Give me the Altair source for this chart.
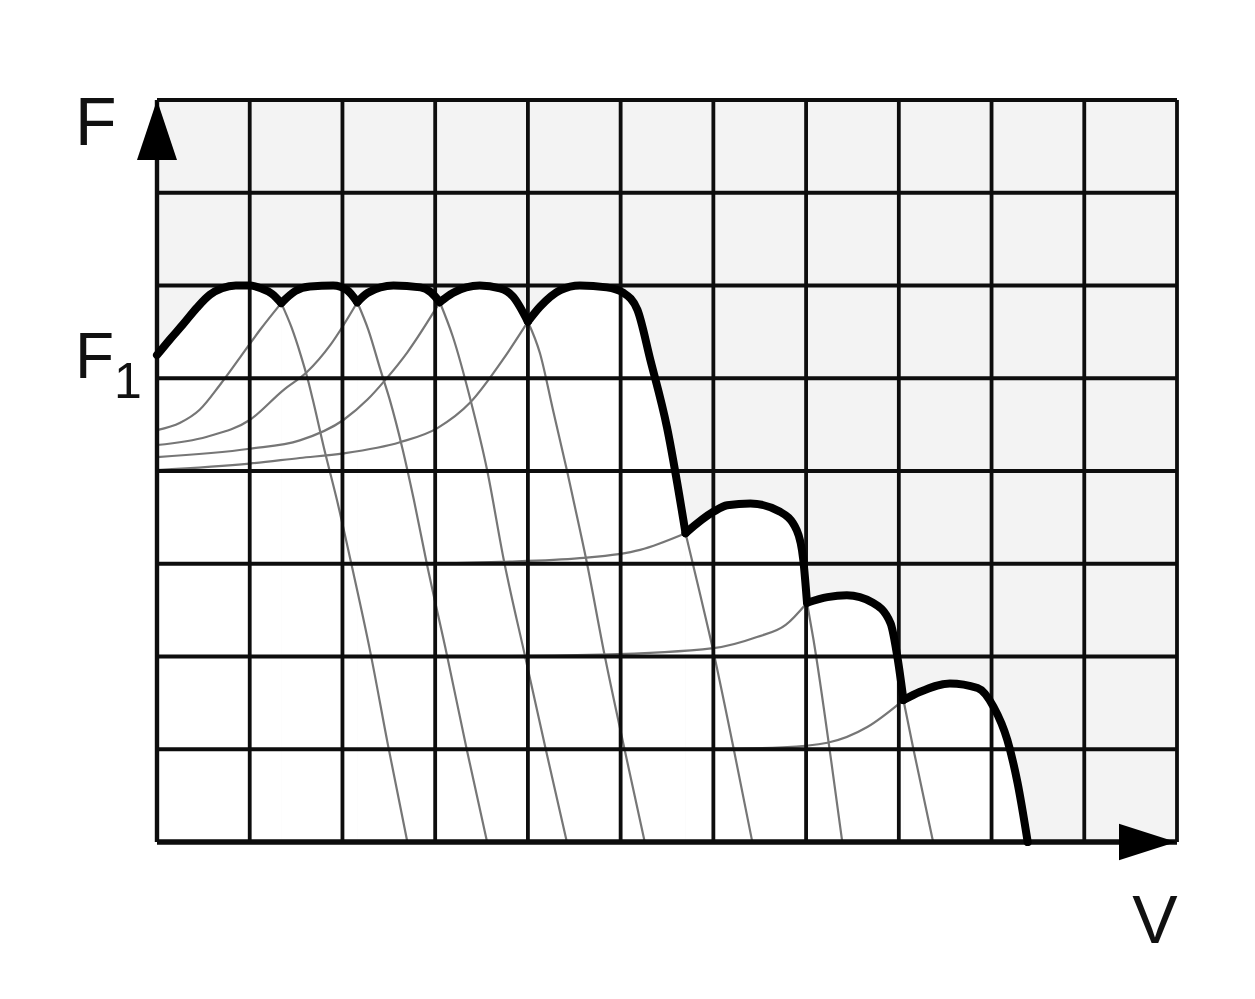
import altair as alt
import pandas as pd

# ---------------- data (grid units: x = speed V, y = tractive force F) ----------------
GRID_X = list(range(0, 12))
GRID_Y = list(range(0, 9))
AXIS_X = [0]
AXIS_Y = [0]

# thick envelope, one piece per gear
ENV1_X = [0.00, 0.14, 0.28, 0.43, 0.57, 0.70, 0.85, 1.00, 1.12, 1.24, 1.34]
ENV1_Y = [5.25, 5.42, 5.58, 5.76, 5.90, 5.97, 6.00, 6.00, 5.97, 5.91, 5.81]
ENV2_X = [1.34, 1.49, 1.65, 1.90, 2.05, 2.16]
ENV2_Y = [5.81, 5.94, 5.99, 6.00, 5.95, 5.82]
ENV3_X = [2.16, 2.27, 2.55, 2.84, 2.95, 3.05]
ENV3_Y = [5.82, 5.92, 6.00, 5.98, 5.93, 5.82]
ENV4_X = [3.05, 3.19, 3.48, 3.70, 3.84, 4.00]
ENV4_Y = [5.82, 5.92, 6.00, 5.97, 5.88, 5.61]
ENV5_X = [4.00, 4.13, 4.35, 4.56, 4.85, 5.03, 5.18, 5.32, 5.50, 5.70]
ENV5_Y = [5.61, 5.77, 5.95, 6.00, 5.98, 5.92, 5.74, 5.20, 4.47, 3.33]
ENV6_X = [5.70, 6.00, 6.15, 6.40, 6.72, 6.90, 6.97, 7.01]
ENV6_Y = [3.33, 3.56, 3.63, 3.65, 3.56, 3.36, 3.04, 2.58]
ENV7_X = [7.01, 7.23, 7.44, 7.72, 7.91, 7.99, 8.05]
ENV7_Y = [2.58, 2.64, 2.66, 2.58, 2.36, 1.96, 1.53]
ENV8_X = [8.05, 8.23, 8.55, 8.85, 9.02, 9.17, 9.28, 9.39]
ENV8_Y = [1.53, 1.62, 1.71, 1.66, 1.46, 1.10, 0.64, 0.00]

# thin gear curves: rising branches
G2_RISE_X = [0.00, 0.25, 0.46, 0.68, 0.90, 1.11, 1.34]
G2_RISE_Y = [4.44, 4.52, 4.66, 4.93, 5.23, 5.52, 5.81]
G3_RISE_X = [0.00, 0.54, 1.00, 1.36, 1.62, 1.87, 2.16]
G3_RISE_Y = [4.28, 4.37, 4.55, 4.87, 5.07, 5.36, 5.82]
G4_RISE_X = [0.00, 1.00, 1.54, 2.01, 2.27, 2.46, 2.70, 3.05]
G4_RISE_Y = [4.15, 4.24, 4.33, 4.55, 4.77, 4.98, 5.28, 5.82]
G5_RISE_X = [0.00, 1.00, 1.54, 2.01, 2.62, 3.02, 3.38, 3.73, 4.00]
G5_RISE_Y = [4.01, 4.08, 4.14, 4.19, 4.31, 4.46, 4.74, 5.20, 5.61]
G6_RISE_X = [0.00, 2.62, 3.70, 4.56, 5.21, 5.70]
G6_RISE_Y = [3.00, 3.00, 3.02, 3.06, 3.15, 3.33]
G7_RISE_X = [0.00, 3.16, 4.78, 6.00, 6.47, 6.78, 7.01]
G7_RISE_Y = [2.00, 2.00, 2.02, 2.09, 2.21, 2.34, 2.58]
G8_RISE_X = [0.00, 5.86, 6.75, 7.23, 7.66, 8.05]
G8_RISE_Y = [1.00, 1.00, 1.02, 1.07, 1.24, 1.53]

# thin gear curves: falling branches
G1_FALL_X = [1.34, 1.45, 1.55, 1.62, 1.68, 1.80, 1.94, 2.10, 2.30, 2.49, 2.70]
G1_FALL_Y = [5.81, 5.55, 5.25, 5.01, 4.77, 4.25, 3.69, 2.98, 2.05, 1.05, 0.00]
G2_FALL_X = [2.16, 2.28, 2.41, 2.51, 2.65, 2.77, 2.91, 3.13, 3.34, 3.56]
G2_FALL_Y = [5.82, 5.52, 5.09, 4.77, 4.23, 3.69, 3.00, 2.00, 1.00, 0.00]
G3_FALL_X = [3.05, 3.19, 3.38, 3.56, 3.74, 3.97, 4.19, 4.42]
G3_FALL_Y = [5.82, 5.45, 4.77, 4.01, 3.04, 2.00, 1.01, 0.00]
G4_FALL_X = [4.00, 4.13, 4.27, 4.42, 4.49, 4.63, 4.83, 5.04, 5.26]
G4_FALL_Y = [5.61, 5.27, 4.66, 4.01, 3.69, 3.04, 2.00, 1.01, 0.00]
G5_FALL_X = [5.70, 5.85, 5.99, 6.22, 6.42]
G5_FALL_Y = [3.33, 2.70, 2.10, 1.00, 0.00]
G6_FALL_X = [7.01, 7.08, 7.27, 7.39]
G6_FALL_Y = [2.58, 2.18, 0.88, 0.00]
G7_FALL_X = [8.05, 8.16, 8.37]
G7_FALL_Y = [1.53, 0.99, 0.00]

LABEL_F = "F"
LABEL_F1 = "F"
LABEL_SUB = "1"
LABEL_V = "V"


def frame(name, xs, ys):
    return pd.DataFrame({"x": xs, "y": ys, "y0": [0.0] * len(xs),
                         "curve": name, "i": list(range(len(xs)))})


env_df = pd.concat([
    frame("e1", ENV1_X, ENV1_Y), frame("e2", ENV2_X, ENV2_Y),
    frame("e3", ENV3_X, ENV3_Y), frame("e4", ENV4_X, ENV4_Y),
    frame("e5", ENV5_X, ENV5_Y), frame("e6", ENV6_X, ENV6_Y),
    frame("e7", ENV7_X, ENV7_Y), frame("e8", ENV8_X, ENV8_Y),
], ignore_index=True)

thin_df = pd.concat([
    frame("r2", G2_RISE_X, G2_RISE_Y), frame("r3", G3_RISE_X, G3_RISE_Y),
    frame("r4", G4_RISE_X, G4_RISE_Y), frame("r5", G5_RISE_X, G5_RISE_Y),
    frame("r6", G6_RISE_X, G6_RISE_Y), frame("r7", G7_RISE_X, G7_RISE_Y),
    frame("r8", G8_RISE_X, G8_RISE_Y),
    frame("f1", G1_FALL_X, G1_FALL_Y), frame("f2", G2_FALL_X, G2_FALL_Y),
    frame("f3", G3_FALL_X, G3_FALL_Y), frame("f4", G4_FALL_X, G4_FALL_Y),
    frame("f5", G5_FALL_X, G5_FALL_Y), frame("f6", G6_FALL_X, G6_FALL_Y),
    frame("f7", G7_FALL_X, G7_FALL_Y),
], ignore_index=True)

XS = alt.Scale(domain=[0, 11], nice=False, zero=False)
YS = alt.Scale(domain=[0, 8], nice=False, zero=False)

W, H = 1020, 742
FONT = "Liberation Sans"

# light-grey plot background
bg = alt.Chart(alt.Data(values=[{"k": 1}])).mark_rect(color="#f3f3f3", opacity=1).encode(
    x=alt.value(0), x2=alt.value(W), y=alt.value(0), y2=alt.value(H)
)

# white region beneath the envelope
under = alt.Chart(env_df).mark_area(fill="#ffffff", fillOpacity=1, opacity=1,
                                    interpolate="monotone", strokeWidth=0).encode(
    x=alt.X("x:Q", scale=XS, axis=None),
    y=alt.Y("y:Q", scale=YS, axis=None, stack=False),
    y2="y0:Q",
    detail="curve:N",
)

thin = alt.Chart(thin_df).mark_line(color="#767676", strokeWidth=2.2, interpolate="monotone").encode(
    x=alt.X("x:Q", scale=XS, axis=None),
    y=alt.Y("y:Q", scale=YS, axis=None),
    detail="curve:N",
    order="i:Q",
)

vgrid = alt.Chart(pd.DataFrame({"gx": GRID_X})).mark_rule(color="#0d0d0d", strokeWidth=3.8).encode(
    x=alt.X("gx:Q", scale=XS, axis=None)
)
hgrid = alt.Chart(pd.DataFrame({"gy": GRID_Y})).mark_rule(color="#0d0d0d", strokeWidth=3.8).encode(
    y=alt.Y("gy:Q", scale=YS, axis=None)
)
vaxis = alt.Chart(pd.DataFrame({"gx": AXIS_X})).mark_rule(color="#0d0d0d", strokeWidth=4.4).encode(
    x=alt.X("gx:Q", scale=XS, axis=None)
)
haxis = alt.Chart(pd.DataFrame({"gy": AXIS_Y})).mark_rule(color="#0d0d0d", strokeWidth=5.4).encode(
    y=alt.Y("gy:Q", scale=YS, axis=None)
)

thick = alt.Chart(env_df).mark_line(
    color="black", strokeWidth=8, interpolate="monotone", strokeCap="round", strokeJoin="round"
).encode(
    x=alt.X("x:Q", scale=XS, axis=None),
    y=alt.Y("y:Q", scale=YS, axis=None),
    detail="curve:N",
    order="i:Q",
)

one = alt.Data(values=[{"k": 1}])

arrow_up = alt.Chart(one).mark_point(
    shape="M0,0L0.667,2L-0.667,2Z", size=3600, filled=True, color="black", opacity=1, strokeWidth=0
).encode(x=alt.value(0), y=alt.value(0))

arrow_right = alt.Chart(one).mark_point(
    shape="M0,0L-2,0.64L-2,-0.64Z", size=3249, filled=True, color="black", opacity=1, strokeWidth=0
).encode(x=alt.value(1019), y=alt.value(H))

txt_f = alt.Chart(one).mark_text(
    text=LABEL_F, font=FONT, fontSize=68, align="left", baseline="alphabetic", color="#111111"
).encode(x=alt.value(-82), y=alt.value(45))

txt_f1 = alt.Chart(one).mark_text(
    text=LABEL_F1, font=FONT, fontSize=64, align="left", baseline="alphabetic", color="#111111"
).encode(x=alt.value(-82), y=alt.value(278))

txt_sub = alt.Chart(one).mark_text(
    text=LABEL_SUB, font=FONT, fontSize=50, align="left", baseline="alphabetic", color="#111111"
).encode(x=alt.value(-43), y=alt.value(298))

txt_v = alt.Chart(one).mark_text(
    text=LABEL_V, font=FONT, fontSize=68, align="center", baseline="alphabetic", color="#111111"
).encode(x=alt.value(998), y=alt.value(843))

chart = alt.layer(
    bg, under, thin, vgrid, hgrid, vaxis, haxis, thick,
    arrow_up, arrow_right, txt_f, txt_f1, txt_sub, txt_v,
).properties(
    width=W,
    height=H,
    padding={"left": 149, "top": 92, "right": 70, "bottom": 150},
    autosize=alt.AutoSizeParams(type="none"),
).configure_view(strokeWidth=0)

chart.save("out.html", embed_options={"renderer": "svg", "actions": False})
